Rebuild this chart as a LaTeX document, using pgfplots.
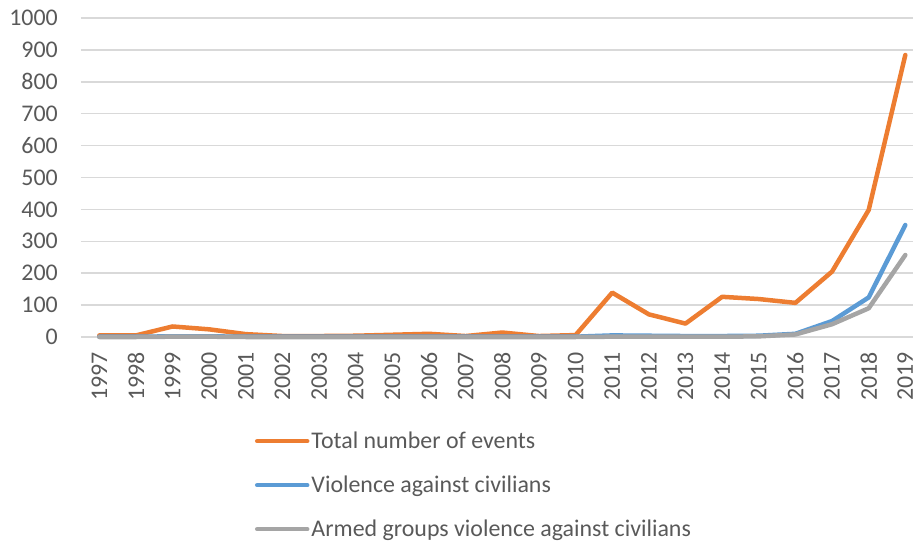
\documentclass[border=0pt]{standalone}
\usepackage{pgfplots}
\pgfplotsset{compat=1.18}
\usepackage{fontspec}
\setmainfont{Carlito}
\definecolor{cOrange}{HTML}{ED7D31}
\definecolor{cBlue}{HTML}{5B9BD5}
\definecolor{cGray}{HTML}{A5A5A5}
\definecolor{gridgray}{HTML}{D9D9D9}
\definecolor{textgray}{HTML}{595959}
\pgfplotstableread{
x total viol armed
0 5 1 0
1 5 1 0
2 33 2 1
3 24 2 1
4 9 1 0
5 3 1 0
6 3 1 0
7 4 1 0
8 7 1 0
9 10 1 0
10 3 1 0
11 14 1 0
12 3 1 0
13 6 1 0
14 139 5 1
15 71 4 1
16 42 3 1
17 126 3 1
18 119 4 2
19 107 10 8
20 205 50 40
21 398 124 90
22 884 351 257
}\datatable
\begin{document}
\begin{tikzpicture}
\begin{axis}[
  at={(0,0)}, anchor=south west,
  scale only axis, width=832bp, height=319bp,
  xmin=-0.5, xmax=22.21, ymin=0, ymax=1000,
  axis line style={draw=none},
  major tick length=0pt,
  ytick={0,100,...,1000},
  xtick={0,...,22},
  xticklabels={1997,1998,1999,2000,2001,2002,2003,2004,2005,2006,2007,2008,2009,2010,2011,2012,2013,2014,2015,2016,2017,2018,2019},
  ymajorgrids, grid style={color=gridgray, line width=1.5bp},
  ticklabel style={font=\fontsize{24}{28}\selectfont, text=textgray},
  xticklabel style={rotate=90, anchor=east, inner sep=0pt, xshift=-15bp},
  yticklabel style={anchor=east, inner sep=0pt, xshift=-23bp},
  /pgf/number format/assume math mode=true,
  /pgf/number format/1000 sep={},
  clip=false,
  legend cell align=left,
  legend style={draw=none, fill=none, inner sep=0pt, outer sep=0pt,
    at={(axis description cs:0.2091,-0.2916)}, anchor=north west,
    font=\fontsize{24}{28}\selectfont, text=textgray,
    row sep=22bp,
    /tikz/every even column/.append style={column sep=13bp}},
  legend image code/.code={\draw[#1, line cap=round] (0bp,0bp) -- (50bp,0bp);},
  every axis plot/.append style={line width=4.5bp, line join=round, line cap=round, mark=none},
]
\addplot[color=cOrange] table[x=x, y=total] {\datatable};
\addlegendentry{Total number of events}
\addplot[color=cBlue] table[x=x, y=viol] {\datatable};
\addlegendentry{Violence against civilians}
\addplot[color=cGray] table[x=x, y=armed] {\datatable};
\addlegendentry{Armed groups violence against civilians}
\end{axis}
\pgfresetboundingbox
\path[use as bounding box] (-81bp,-206bp) rectangle (832bp,337bp);
\end{tikzpicture}
\end{document}
